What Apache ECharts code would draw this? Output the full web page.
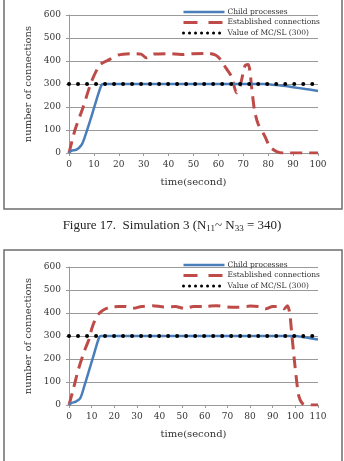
<!DOCTYPE html>
<html>
<head>
<meta charset="utf-8">
<script src="https://cdn.jsdelivr.net/npm/echarts@6.0.0/dist/echarts.min.js"></script>
<style>
  html, body { margin: 0; padding: 0; background: #fff; }
  #chart { width: 344px; height: 461px; }
</style>
</head>
<body>
<div id="chart"></div>
<script>
// names shown in both legends
const seriesNames = ['Child processes', 'Established connections', 'Value of MC/SL (300)'];

// simulation 3 (top chart)
const sim3ChildT = [0, 1, 3, 5, 6.4, 9, 11, 13, 13.8, 78, 85, 90, 95, 100];
const sim3ChildV = [0, 10, 15, 35, 71, 158, 230, 295, 300, 300, 293, 286, 278, 270];
const sim3ConnT = [0, 2.4, 5.7, 9, 12.4, 15.8, 19.8, 25, 29, 31, 34, 40, 45, 50, 56, 59, 61, 63, 65.3, 67.3, 68.7, 70.7, 72, 73.4, 74.5, 76, 78.7, 80.7, 83.4, 86, 100];
const sim3ConnV = [0, 100, 200, 310, 383, 404, 426, 432, 430, 414, 430, 432, 428, 432, 433, 425, 405, 370, 332, 262, 290, 380, 385, 280, 185, 125, 72, 27, 6, 0, 0];
const sim3LimitT = [0, 100];
const sim3LimitV = [300, 300];

// second simulation (bottom chart)
const sim4ChildT = [0, 1, 3, 5, 7, 9, 11, 13, 14, 100, 103, 106, 110];
const sim4ChildV = [0, 8, 15, 30, 90, 155, 220, 285, 300, 300, 296, 291, 285];
const sim4ConnT = [0, 1.8, 4, 7, 9, 10, 11.5, 13, 15, 18, 22, 25, 28, 32, 37, 42, 47, 51, 55, 60, 65, 70, 75, 80, 84, 87, 90, 93, 95, 96.5, 97.5, 98.5, 99.5, 100.5, 101.5, 103, 105, 110];
const sim4ConnV = [0, 65, 150, 240, 290, 330, 370, 395, 412, 425, 428, 428, 420, 428, 432, 426, 428, 420, 428, 428, 432, 426, 425, 430, 428, 418, 428, 428, 418, 432, 400, 300, 200, 110, 40, 8, 0, 0];
const sim4LimitT = [0, 110];
const sim4LimitV = [300, 300];

const yTicks = { min: 0, max: 600, interval: 100 };

const pairs = (t, v) => t.map((x, i) => [x, v[i]]);

const serif = 'DejaVu Serif';
const gridColor = '#9a9a9a';
const blue = '#4a7ebb';
const red = '#be4b48';

function xAxisFor(gridIndex, max) {
  return {
    type: 'value', gridIndex, min: 0, max, interval: 10,
    name: 'time(second)', nameLocation: 'middle', nameGap: 24,
    nameTextStyle: { fontFamily: serif, fontSize: 10, color: '#333' },
    axisLine: { show: true, lineStyle: { color: gridColor, width: 1 } },
    axisTick: { show: true, length: 3, lineStyle: { color: gridColor } },
    axisLabel: { fontFamily: serif, fontSize: 9, color: '#333', margin: 7 },
    splitLine: { show: false }
  };
}

function yAxisFor(gridIndex) {
  return {
    type: 'value', gridIndex, min: yTicks.min, max: yTicks.max, interval: yTicks.interval,
    name: 'number of connections', nameLocation: 'middle', nameGap: 31,
    nameTextStyle: { fontFamily: serif, fontSize: 10, color: '#333' },
    axisLine: { show: true, lineStyle: { color: gridColor, width: 1 } },
    axisTick: { show: true, length: 3, lineStyle: { color: gridColor } },
    axisLabel: { fontFamily: serif, fontSize: 9, color: '#333', margin: 8 },
    splitLine: { show: true, lineStyle: { color: gridColor, width: 1 } }
  };
}

function seriesFor(idx, child, conn, limit) {
  return [
    {
      name: seriesNames[0], type: 'line', xAxisIndex: idx, yAxisIndex: idx,
      data: child, symbol: 'none', smooth: 0.3, z: 3,
      lineStyle: { color: blue, width: 2.5 }, itemStyle: { color: blue }
    },
    {
      name: seriesNames[1], type: 'line', xAxisIndex: idx, yAxisIndex: idx,
      data: conn, symbol: 'none', smooth: 0.25, z: 2,
      lineStyle: { color: red, width: 3, type: [12, 7] }, itemStyle: { color: red }
    },
    {
      name: seriesNames[2], type: 'line', xAxisIndex: idx, yAxisIndex: idx,
      data: limit, symbol: 'none', z: 4,
      lineStyle: { color: '#000', width: 4, type: [0.01, 9], cap: 'round' }, itemStyle: { color: '#000' }
    }
  ];
}

function legendAt(top) {
  return {
    data: [
      { name: seriesNames[0], lineStyle: { color: blue, width: 2.5, type: 'solid' } },
      { name: seriesNames[1], lineStyle: { color: red, width: 3, type: [14, 11] } },
      { name: seriesNames[2], lineStyle: { color: '#000', width: 3, type: [0.01, 6], cap: 'round' } }
    ],
    orient: 'vertical', left: 177, top,
    itemWidth: 41, itemHeight: 10, itemGap: 2.5, selectedMode: false,
    itemStyle: { opacity: 0 },
    textStyle: { fontFamily: serif, fontSize: 7.5, color: '#333', padding: [0, 0, 0, -2] }
  };
}

const chart = echarts.init(document.getElementById('chart'), null, { renderer: 'canvas' });

chart.setOption({
  animation: false,
  backgroundColor: '#fff',
  title: {
    text: 'Figure 17.  Simulation 3 (N{sub|11}~ N{sub|33} = 340)',
    left: 'center', top: 213,
    textStyle: {
      fontFamily: 'Liberation Serif', fontSize: 13, fontWeight: 'normal', color: '#222',
      rich: { sub: { fontFamily: 'Liberation Serif', fontSize: 9, color: '#222', verticalAlign: 'bottom', padding: [6, 0, 0, 0] } }
    }
  },
  graphic: [
    { type: 'rect', shape: { x: 4, y: -2, width: 338, height: 211 }, style: { fill: 'none', stroke: '#6e6e6e', lineWidth: 1.5 }, silent: true },
    { type: 'rect', shape: { x: 4, y: 250, width: 338, height: 215 }, style: { fill: 'none', stroke: '#6e6e6e', lineWidth: 1.5 }, silent: true }
  ],
  legend: [legendAt(3), legendAt(256)],
  grid: [
    { left: 69, top: 15, width: 249, height: 138 },
    { left: 69, top: 267, width: 249, height: 138 }
  ],
  xAxis: [xAxisFor(0, 100), xAxisFor(1, 110)],
  yAxis: [yAxisFor(0), yAxisFor(1)],
  series: [
    ...seriesFor(0, pairs(sim3ChildT, sim3ChildV), pairs(sim3ConnT, sim3ConnV), pairs(sim3LimitT, sim3LimitV)),
    ...seriesFor(1, pairs(sim4ChildT, sim4ChildV), pairs(sim4ConnT, sim4ConnV), pairs(sim4LimitT, sim4LimitV))
  ]
});
</script>
</body>
</html>
